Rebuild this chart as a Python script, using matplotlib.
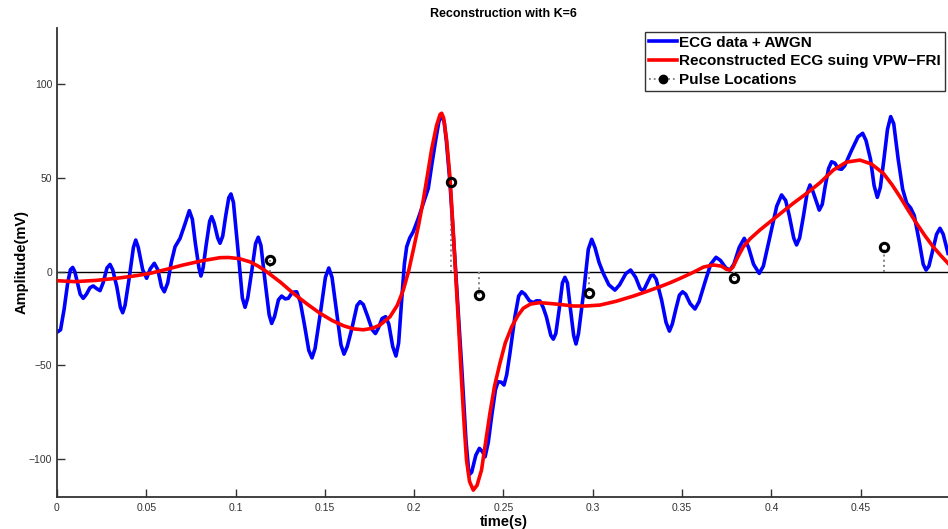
import matplotlib
matplotlib.use("Agg")
import matplotlib.pyplot as plt
from matplotlib.lines import Line2D

plt.rcParams["font.family"] = ["Liberation Sans", "DejaVu Sans"]

# noisy ECG (blue)
ecg_t = [0.0005, 0.0020, 0.0040, 0.0060, 0.0075, 0.0088, 0.0100, 0.0115, 0.0130, 0.0147,
         0.0165, 0.0185, 0.0203, 0.0222, 0.0241, 0.0258, 0.0280, 0.0297, 0.0312, 0.0335,
         0.0355, 0.0368, 0.0381, 0.0405, 0.0428, 0.0441, 0.0455, 0.0480, 0.0502, 0.0522,
         0.0545, 0.0565, 0.0585, 0.0601, 0.0620, 0.0640, 0.0661, 0.0689, 0.0715, 0.0741,
         0.0758, 0.0775, 0.0795, 0.0806, 0.0818, 0.0835, 0.0855, 0.0866, 0.0880, 0.0900,
         0.0913, 0.0928, 0.0945, 0.0962, 0.0974, 0.0988, 0.1015, 0.1038, 0.1053, 0.1068,
         0.1090, 0.1112, 0.1127, 0.1142, 0.1165, 0.1188, 0.1202, 0.1218, 0.1240, 0.1258,
         0.1278, 0.1295, 0.1318, 0.1342, 0.1362, 0.1385, 0.1410, 0.1428, 0.1445, 0.1475,
         0.1503, 0.1522, 0.1540, 0.1565, 0.1590, 0.1607, 0.1625, 0.1652, 0.1680, 0.1697,
         0.1715, 0.1740, 0.1765, 0.1783, 0.1800, 0.1820, 0.1840, 0.1858, 0.1880, 0.1898,
         0.1913, 0.1930, 0.1945, 0.1958, 0.1975, 0.1995, 0.2025, 0.2051, 0.2079, 0.2100,
         0.2120, 0.2138, 0.2154, 0.2168, 0.2180, 0.2200, 0.2232, 0.2266, 0.2290, 0.2307,
         0.2322, 0.2345, 0.2365, 0.2382, 0.2397, 0.2415, 0.2434, 0.2455, 0.2470, 0.2488,
         0.2503, 0.2518, 0.2536, 0.2564, 0.2585, 0.2602, 0.2620, 0.2645, 0.2667, 0.2685,
         0.2704, 0.2722, 0.2740, 0.2765, 0.2779, 0.2793, 0.2812, 0.2830, 0.2844, 0.2858,
         0.2875, 0.2893, 0.2906, 0.2920, 0.2950, 0.2975, 0.2994, 0.3012, 0.3035, 0.3059,
         0.3090, 0.3124, 0.3150, 0.3185, 0.3212, 0.3240, 0.3265, 0.3283, 0.3305, 0.3325,
         0.3339, 0.3355, 0.3385, 0.3410, 0.3429, 0.3445, 0.3465, 0.3485, 0.3503, 0.3520,
         0.3545, 0.3572, 0.3595, 0.3630, 0.3660, 0.3690, 0.3715, 0.3745, 0.3768, 0.3790,
         0.3820, 0.3848, 0.3872, 0.3900, 0.3932, 0.3955, 0.3995, 0.4030, 0.4057, 0.4080,
         0.4100, 0.4125, 0.4141, 0.4158, 0.4180, 0.4200, 0.4216, 0.4232, 0.4268, 0.4285,
         0.4300, 0.4320, 0.4337, 0.4355, 0.4375, 0.4393, 0.4410, 0.4450, 0.4485, 0.4511,
         0.4530, 0.4555, 0.4575, 0.4593, 0.4610, 0.4630, 0.4650, 0.4668, 0.4685, 0.4710,
         0.4735, 0.4758, 0.4780, 0.4800, 0.4830, 0.4850, 0.4866, 0.4882, 0.4905, 0.4925,
         0.4944, 0.4962, 0.4989]
ecg_y = [-32, -31, -20, -6, 1, 2.3, 0, -6, -12, -14.2,
         -12, -8.5, -7.6, -9, -10.1, -6, 2, 3.9, 1, -8,
         -19, -21.9, -18, -3, 13, 16.9, 13, 1, -3.5, 1.5,
         4.5, 1, -8, -10.7, -6, 5, 13.3, 17.8, 25, 32.6,
         28, 15, 2, -2.3, 2, 14, 27, 29.4, 26, 18,
         15.2, 19, 30, 39.5, 41.5, 37, 10, -14, -19.0, -14,
         0, 15, 18.4, 14, -5, -23, -27.6, -24, -15, -13.0,
         -14.5, -14.2, -11, -10.7, -16, -28, -42, -46, -41, -22,
         -3, 2, -3, -21, -39, -44, -40, -30, -18, -16,
         -17.5, -24, -31, -33, -30, -25, -24, -28, -40, -45,
         -38, -15, 4, 13.3, 18, 21.4, 29, 36.5, 44.5, 58,
         70, 80, 83.7, 80, 70, 48, 0.9, -50.7, -90, -108.5,
         -107, -98, -94.3, -96, -98.8, -91, -77, -63, -58.7, -59,
         -60.5, -55, -43.6, -24, -13, -10.7, -12, -15.5, -16.5, -15.5,
         -15.6, -19, -24, -34, -36, -33, -20, -6, -3, -6,
         -20, -34, -38.6, -33, -10, 12, 17.3, 13, 5, -0.9,
         -7, -9.8, -7, -1, 0.9, -3, -9, -10.3, -6, -2,
         -1.8, -4, -15, -27, -31.7, -28, -20, -12.5, -10.7, -12,
         -17, -19.9, -16, -5, 4, 7.7, 6, 2, 0.9, 4,
         13, 17.8, 13, 4, -0.9, 3, 20, 35, 41, 38,
         30, 18, 14.3, 18, 30, 42, 46.3, 43, 32.9, 36,
         45, 55, 58.7, 58, 55, 54.7, 56.5, 65, 72, 73.9,
         70, 60, 46, 39.7, 45, 60, 76, 82.8, 79, 60,
         44, 36.5, 34, 30, 15, 4, 0.9, 3, 12, 20,
         23.2, 20, 9.8]

# reconstruction (red)
rec_t = [0.0000, 0.0101, 0.0220, 0.0334, 0.0430, 0.0520, 0.0610, 0.0707, 0.0810, 0.0913,
         0.0960, 0.1020, 0.1080, 0.1130, 0.1174, 0.1250, 0.1323, 0.1400, 0.1473, 0.1540,
         0.1603, 0.1660, 0.1715, 0.1765, 0.1808, 0.1865, 0.1905, 0.1939, 0.1968, 0.1995,
         0.2025, 0.2051, 0.2075, 0.2097, 0.2125, 0.2145, 0.2154, 0.2165, 0.2182, 0.2200,
         0.2216, 0.2232, 0.2250, 0.2266, 0.2280, 0.2293, 0.2310, 0.2331, 0.2352, 0.2377,
         0.2400, 0.2424, 0.2450, 0.2480, 0.2510, 0.2546, 0.2580, 0.2611, 0.2650, 0.2704,
         0.2800, 0.2891, 0.2960, 0.3040, 0.3130, 0.3227, 0.3300, 0.3376, 0.3430, 0.3488,
         0.3563, 0.3620, 0.3675, 0.3720, 0.3750, 0.3768, 0.3785, 0.3810, 0.3843, 0.3880,
         0.3936, 0.4030, 0.4122, 0.4200, 0.4272, 0.4347, 0.4420, 0.4496, 0.4560, 0.4627,
         0.4675, 0.4720, 0.4765, 0.4813, 0.4860, 0.4906, 0.4950, 0.4989]
rec_y = [-4.8, -5.3, -4.6, -3.5, -2.3, -0.9, 1.2, 3.6, 5.8, 7.5,
         7.6, 7, 5.3, 2.8, 0, -5.5, -11.5, -17.2, -22.2, -26,
         -28.8, -30.5, -31, -30.2, -28.5, -24, -18, -9.8, 0, 11.6,
         25, 38.3, 52, 65, 78, 84, 84.6, 82, 70, 50.7,
         26, -0.9, -31, -59.6, -82, -100.5, -112, -116.6, -114, -105.9,
         -91, -75.6, -61, -48.9, -38, -29.4, -23.5, -19.5, -17.3, -16.5,
         -17.3, -18.3, -18.3, -17.8, -15.8, -13, -10.6, -8, -6, -3.6,
         -0.3, 2.5, 3.6, 3, 1.2, 0.9, 2.5, 7.5, 13.3, 17.5,
         22.3, 29.5, 36.5, 42, 47.5, 54.3, 58.5, 59.6, 57.5, 52.5,
         46.5, 40, 33, 25.8, 19.2, 13.3, 8.5, 4.5]

# pulse locations
pulse_t = [0.1193, 0.2204, 0.2361, 0.2979, 0.3791, 0.4632]
pulse_y = [6.3, 47.7, -12.4, -11.2, -3.2, 13.3]

x_ticks = [0, 0.05, 0.1, 0.15, 0.2, 0.25, 0.3, 0.35, 0.4, 0.45]
x_ticklabels = ["0", "0.05", "0.1", "0.15", "0.2", "0.25", "0.3", "0.35", "0.4", "0.45"]
y_ticks = [-100, -50, 0, 50, 100]
y_ticklabels = ["\u2212100", "\u221250", "0", "50", "100"]

fig = plt.figure(figsize=(9.48, 5.29), dpi=100)
ax = fig.add_axes([0.0601, 0.0614, 0.942, 0.8853])

ax.axhline(0, color="black", linewidth=1.0, zorder=1)
ax.plot(ecg_t, ecg_y, color="#0000ff", linewidth=2.6, solid_joinstyle="round", zorder=2)
ax.plot(rec_t, rec_y, color="#ff0000", linewidth=2.6, solid_joinstyle="round", zorder=3)
ax.vlines(pulse_t, 0, pulse_y, colors="#808080", linestyles=":", linewidth=1.4, zorder=2)
ax.plot(pulse_t, pulse_y, "o", markersize=6, markerfacecolor="none",
        markeredgecolor="black", markeredgewidth=2.2, zorder=5)

ax.set_xlim(0, 0.5)
ax.set_ylim(-120, 130)
ax.set_xticks(x_ticks)
ax.set_xticklabels(x_ticklabels)
ax.set_yticks(y_ticks)
ax.set_yticklabels(y_ticklabels)
ax.tick_params(direction="in", length=6, width=1.0, labelsize=7.5,
               labelcolor="#333333", color="#333333")
ax.tick_params(axis="x", pad=5)

for side in ["top", "right"]:
    ax.spines[side].set_visible(False)
for side in ["left", "bottom"]:
    ax.spines[side].set_color("#333333")
    ax.spines[side].set_linewidth(1.3)

ax.set_title("Reconstruction with K=6", fontsize=9, fontweight="bold", pad=8)
ax.set_xlabel("time(s)", fontsize=10.5, fontweight="bold", labelpad=1)
ax.set_ylabel("Amplitude(mV)", fontsize=10.5, fontweight="bold", labelpad=0)

handles = [
    Line2D([], [], color="#0000ff", linewidth=2.6),
    Line2D([], [], color="#ff0000", linewidth=2.6),
    Line2D([], [], color="#808080", linestyle=":", linewidth=1.3, marker="o",
           markersize=6, markerfacecolor="black", markeredgecolor="black"),
]
labels = ["ECG data + AWGN", "Reconstructed ECG suing VPW\u2212FRI", "Pulse Locations"]
leg = ax.legend(handles, labels, loc="upper right", bbox_to_anchor=(0.9944, 0.992),
                prop={"weight": "bold", "size": 11}, frameon=True, fancybox=False,
                edgecolor="black", handlelength=1.85, handletextpad=0.15,
                labelspacing=0.3, borderpad=0.25, borderaxespad=0)
leg.get_frame().set_linewidth(1.0)

fig.savefig("out.png", dpi=100)
